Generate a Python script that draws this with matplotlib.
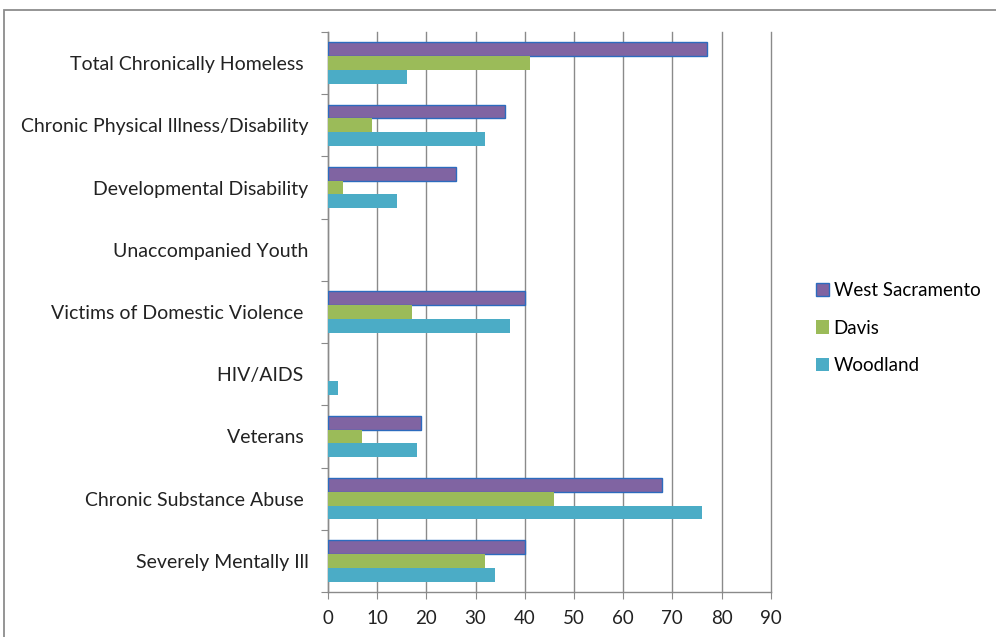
import matplotlib
matplotlib.use("Agg")
import matplotlib.pyplot as plt
from matplotlib.patches import Rectangle
import numpy as np

plt.rcParams['font.family'] = ['Lato', 'DejaVu Sans']

# Categories listed bottom to top
categories = [
    "Severely Mentally Ill",
    "Chronic Substance Abuse ",
    "Veterans ",
    "HIV/AIDS ",
    "Victims of Domestic Violence ",
    "Unaccompanied Youth",
    "Developmental Disability",
    "Chronic Physical Illness/Disability",
    "Total Chronically Homeless ",
]
west_sacramento = [40, 68, 19, 0, 40, 0, 26, 36, 77]
davis = [32, 46, 7, 0, 17, 0, 3, 9, 41]
woodland = [34, 76, 18, 2, 37, 0, 14, 32, 16]
x_ticks = [0, 10, 20, 30, 40, 50, 60, 70, 80, 90]

W, H = 996, 637
fig = plt.figure(figsize=(W / 100, H / 100), dpi=100)

# outer chart frame
fig.patches.append(Rectangle((4 / W, -0.01), 1.05, 1 - 10 / H + 0.01,
                             transform=fig.transFigure, fill=False,
                             edgecolor="#8c8c8c", linewidth=1.3))

ax = fig.add_axes([328 / W, 1 - 592 / H, (770.7 - 328) / W, (592 - 32) / H])

n = len(categories)
y = np.arange(n)
bh = 0.222
ws_edges = ["#2C6BBE" if v > 0 else "none" for v in west_sacramento]
ax.barh(y + bh, west_sacramento, height=bh, color="#8064A2",
        edgecolor=ws_edges, linewidth=1.0, label="West Sacramento", zorder=3)
ax.barh(y, davis, height=bh, color="#9BBB59", linewidth=0,
        label="Davis", zorder=3)
ax.barh(y - bh, woodland, height=bh, color="#4BACC6", linewidth=0,
        label="Woodland", zorder=3)

ax.set_xlim(0, 90)
ax.set_ylim(-0.5, n - 0.5)
ax.set_xticks(x_ticks)
ax.set_xticklabels([str(v) for v in x_ticks], fontsize=13.5, color="#222222")
ax.xaxis.grid(True, color="#8a8a8a", linewidth=1.0, zorder=0)
for gl in ax.get_xgridlines():
    gl.set_clip_on(False)
ax.tick_params(axis="x", length=5, color="#8a8a8a", pad=8)

ax.set_yticks(np.arange(-0.5, n, 1.0))
ax.set_yticklabels([])
ax.set_yticks(y, minor=True)
ax.set_yticklabels(categories, minor=True, fontsize=14, color="#222222")
ax.tick_params(axis="y", which="major", length=5, color="#8a8a8a")
ax.tick_params(axis="y", which="minor", length=0, pad=14)

for s in ("top", "right"):
    ax.spines[s].set_visible(False)
for s in ("left", "bottom"):
    ax.spines[s].set_color("#8a8a8a")
    ax.spines[s].set_linewidth(1.0)

handles, labels = ax.get_legend_handles_labels()
leg = fig.legend(handles, labels, loc="center left",
                 bbox_to_anchor=(799 / W, 1 - 328 / H), frameon=False,
                 fontsize=13.5, handlelength=0.7, handleheight=0.7,
                 handletextpad=0.25, labelspacing=1.1)

fig.savefig("out.png", dpi=100)
